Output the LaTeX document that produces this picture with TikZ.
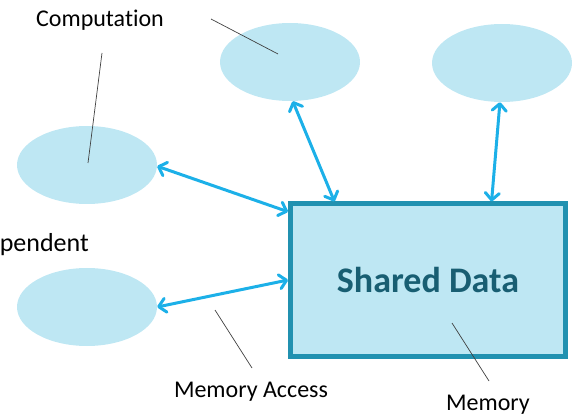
\documentclass[tikz,border=0pt]{standalone}
\usepackage{fontspec}
\setmainfont{Carlito}[Ligatures=NoCommon]
\usetikzlibrary{positioning,shapes.geometric,arrows.meta}

\definecolor{cloud}{RGB}{190,231,243}
\definecolor{rim}{RGB}{33,145,176}
\definecolor{wire}{RGB}{28,176,232}
\definecolor{ink}{RGB}{24,94,114}

\begin{document}
\begin{tikzpicture}[x=1pt,y=-1pt,
	task/.style={ellipse,fill=cloud,minimum width=140pt,minimum height=78pt,inner sep=0pt},
	access/.style={draw=wire,line width=3pt,{Straight Barb[length=7pt,width=14pt,round]}-{Straight Barb[length=7pt,width=14pt,round]}},
	callout/.style={draw=black!75,line width=0.7pt},
	lbl/.style={font=\fontsize{24}{28}\selectfont,inner sep=0pt}]
\useasboundingbox (0,0) rectangle (576,414);

\foreach \x/\y/\l in {290/62/t1,502/63/t2,87/165/t3,87/307/t4}
	\node[task] (\l) at (\x,\y) {};

\node[draw=rim,line width=5pt,fill=cloud,minimum width=275pt,minimum height=152pt,
	text=ink,font=\fontsize{36}{40}\selectfont\bfseries] (mem) at (428,280) {Shared Data};

% memory access arrows
\foreach \a/\b in {t1.-86/mem.140,t2.-93/mem.51,t3.-1/mem.154,t4.east/mem.west}
	\draw[access](\a)--(\b);

\node[lbl,anchor=base] (comp) at (100,27) {Computation};
\node[lbl,anchor=base east,font=\fontsize{26}{30}\selectfont] (indep) at (89,252) {Independent};
\node[lbl,anchor=base] (acc) at (251,397) {Memory Access};
\node[lbl,anchor=base] (memlbl) at (488,410) {Memory};

\coordinate (c1) at (211,19);
\coordinate (c2) at (278,54);
\coordinate (c3) at (102,53);
\coordinate (c4) at (88,163);
\coordinate (c5) at (215,310);
\coordinate (c6) at (252,368);
\coordinate (c7) at (452,323);
\coordinate (c8) at (489,381);
\foreach \a/\b in {c1/c2,c3/c4,c5/c6,c7/c8}
	\draw[callout](\a)--(\b);

\end{tikzpicture}
\end{document}
